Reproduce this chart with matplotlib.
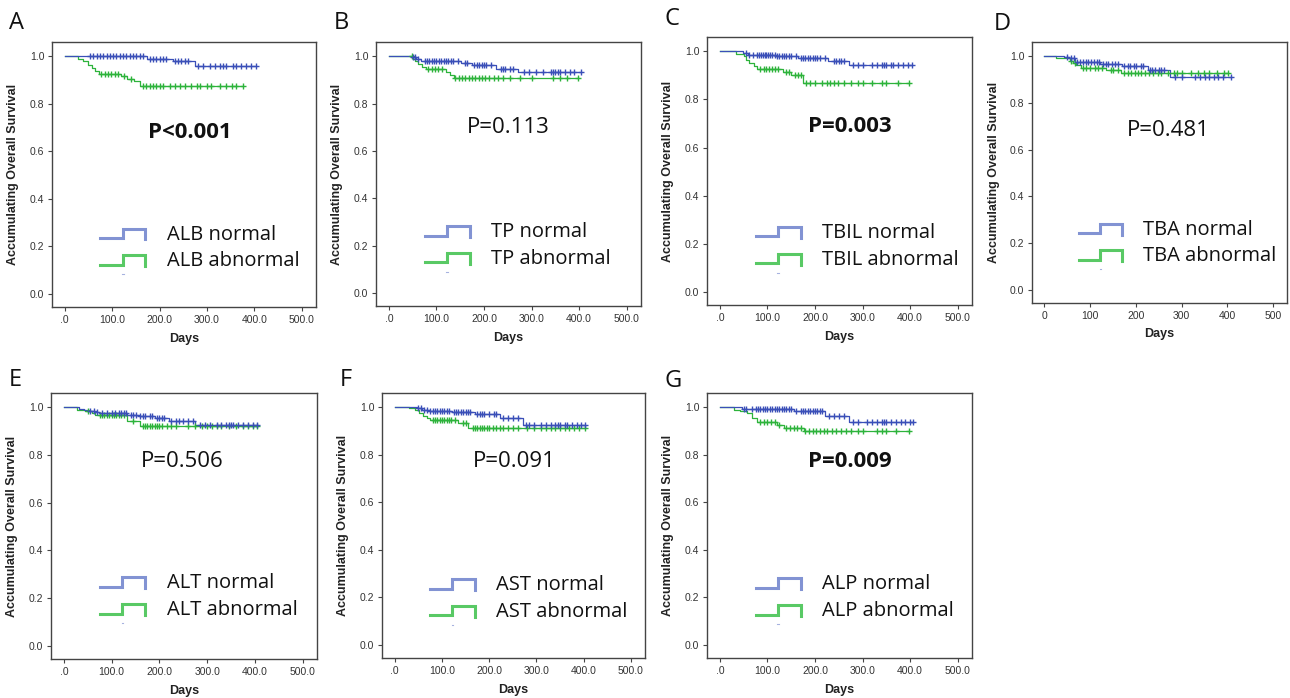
import numpy as np
import matplotlib
matplotlib.use('Agg')
import matplotlib.pyplot as plt

# Kaplan-Meier curves: drop times, level after drop, censor times
a_norm_t = [173, 228, 274]
a_norm_s = [0.99, 0.979, 0.96]
a_norm_c = [53, 60, 67, 74, 81, 88, 95, 102, 109, 116, 123, 130, 137, 144, 151, 158, 165, 179, 186,
            193, 200, 207, 214, 232, 239, 246, 253, 260, 281, 292, 306, 316, 327, 334, 341, 355, 362,
            372, 383, 393, 404]
a_abn_t = [27, 38, 49, 57, 63, 72, 119, 132, 146, 158]
a_abn_s = [0.99, 0.978, 0.965, 0.95, 0.938, 0.924, 0.915, 0.905, 0.895, 0.875]
a_abn_c = [77, 84, 91, 98, 105, 112, 125, 140, 165, 172, 179, 186, 193, 200, 207, 221, 232, 243, 253,
           267, 278, 285, 299, 309, 327, 341, 352, 362, 375]

b_norm_t = [46, 58, 68, 152, 174, 226, 272]
b_norm_s = [0.995, 0.99, 0.98, 0.972, 0.963, 0.947, 0.932]
b_norm_c = [50, 55, 62, 75, 80, 85, 90, 95, 100, 105, 110, 115, 120, 125, 130, 135, 145, 160, 165, 180,
            185, 190, 195, 200, 205, 215, 235, 240, 245, 255, 260, 285, 295, 310, 325, 340, 345, 350,
            355, 360, 370, 380, 390, 403]
b_abn_t = [50, 56, 62, 70, 78, 120, 128, 136]
b_abn_s = [0.99, 0.978, 0.965, 0.955, 0.946, 0.935, 0.92, 0.909]
b_abn_c = [48, 83, 90, 97, 104, 111, 140, 147, 154, 161, 168, 175, 182, 189, 196, 203, 210, 220, 230,
           240, 255, 275, 300, 345, 360, 375, 397]

c_norm_t = [48, 60, 118, 164, 227, 272]
c_norm_s = [0.995, 0.987, 0.979, 0.971, 0.962, 0.943]
c_norm_c = [55, 62, 70, 78, 82, 86, 90, 94, 98, 102, 106, 110, 115, 120, 125, 130, 135, 140, 145, 150,
            160, 170, 175, 180, 185, 190, 195, 200, 205, 210, 220, 240, 245, 250, 255, 260, 280, 290,
            300, 320, 330, 340, 345, 350, 360, 365, 375, 385, 395, 403]
c_abn_t = [34, 50, 56, 62, 72, 79, 133, 150, 175]
c_abn_s = [0.99, 0.98, 0.965, 0.952, 0.94, 0.928, 0.915, 0.9, 0.868]
c_abn_c = [85, 92, 98, 104, 110, 116, 122, 138, 145, 158, 165, 170, 182, 190, 200, 215, 225, 232, 240,
           248, 260, 275, 290, 300, 320, 340, 350, 375, 397]

d_norm_t = [43, 54, 68, 122, 170, 227, 274]
d_norm_s = [0.995, 0.99, 0.976, 0.968, 0.956, 0.942, 0.911]
d_norm_c = [50, 58, 65, 72, 78, 84, 90, 96, 102, 108, 114, 120, 128, 135, 140, 148, 155, 160, 175, 182,
            188, 195, 200, 210, 215, 230, 236, 242, 250, 255, 262, 285, 300, 330, 340, 350, 360, 370,
            380, 390, 407]
d_abn_t = [25, 55, 62, 70, 80, 135, 168]
d_abn_s = [0.99, 0.98, 0.97, 0.96, 0.951, 0.94, 0.926]
d_abn_c = [58, 66, 85, 92, 100, 110, 118, 125, 145, 150, 160, 175, 182, 190, 198, 205, 212, 220, 228,
           238, 248, 255, 270, 283, 290, 300, 320, 335, 348, 360, 378, 392, 402]

e_norm_t = [32, 42, 52, 63, 74, 133, 158, 190, 221, 274]
e_norm_s = [0.995, 0.99, 0.986, 0.979, 0.976, 0.969, 0.962, 0.954, 0.944, 0.927]
e_norm_c = [55, 62, 70, 80, 90, 100, 108, 115, 120, 125, 130, 140, 145, 150, 160, 165, 170, 180, 185,
            195, 200, 205, 210, 225, 235, 240, 250, 260, 270, 285, 295, 305, 320, 330, 340, 345, 350,
            355, 365, 375, 385, 395, 404]
e_abn_t = [28, 45, 58, 66, 133, 160]
e_abn_s = [0.99, 0.985, 0.975, 0.969, 0.944, 0.92]
e_abn_c = [51, 75, 80, 85, 90, 95, 100, 105, 110, 115, 120, 125, 145, 165, 170, 175, 180, 185, 190,
           195, 200, 205, 215, 225, 235, 260, 275, 290, 300, 310, 320, 330, 345, 360, 375, 385, 395, 404]

f_norm_t = [47, 58, 72, 121, 170, 223, 272]
f_norm_s = [0.995, 0.99, 0.986, 0.979, 0.973, 0.955, 0.924]
f_norm_c = [50, 55, 62, 68, 75, 80, 85, 90, 95, 100, 105, 110, 115, 125, 130, 135, 140, 145, 150, 155,
            160, 175, 180, 185, 190, 200, 210, 215, 230, 240, 250, 260, 278, 285, 295, 310, 320, 330,
            340, 345, 350, 360, 365, 375, 385, 395, 402]
f_abn_t = [30, 42, 52, 60, 68, 75, 135, 156]
f_abn_s = [0.995, 0.987, 0.976, 0.965, 0.955, 0.945, 0.934, 0.914]
f_abn_c = [80, 85, 90, 95, 100, 105, 110, 115, 120, 128, 145, 150, 165, 170, 175, 180, 185, 190, 195,
           200, 208, 215, 222, 230, 240, 250, 262, 280, 295, 310, 320, 330, 340, 350, 360, 370, 380,
           390, 402]

g_norm_t = [47, 155, 222, 271]
g_norm_s = [0.993, 0.983, 0.962, 0.938]
g_norm_c = [50, 55, 68, 75, 80, 85, 90, 95, 100, 105, 110, 115, 120, 125, 130, 135, 140, 145, 150, 160,
            170, 175, 180, 185, 190, 195, 200, 205, 210, 215, 230, 240, 250, 260, 280, 290, 310, 320,
            330, 340, 345, 350, 360, 370, 380, 390, 400, 406]
g_abn_t = [29, 43, 57, 67, 78, 120, 134, 176]
g_abn_s = [0.99, 0.983, 0.976, 0.955, 0.937, 0.927, 0.913, 0.899]
g_abn_c = [85, 92, 100, 108, 115, 125, 140, 148, 155, 162, 170, 180, 188, 195, 202, 210, 218, 225, 235,
           245, 255, 265, 275, 290, 300, 330, 340, 350, 370, 397]

letters = ['A', 'B', 'C', 'D', 'E', 'F', 'G']
markers = ['ALB', 'TP', 'TBIL', 'TBA', 'ALT', 'AST', 'ALP']
pvals = ['P<0.001', 'P=0.113', 'P=0.003', 'P=0.481', 'P=0.506', 'P=0.091', 'P=0.009']
pbold = [True, False, True, False, False, False, True]

# layout (pixels): axes box left, top, right, bottom ; letter x, y ; p text pos ; legend y
W, H = 1290, 698
boxes = [(52, 42, 316, 307), (376, 42, 641, 306), (707, 37, 972, 305), (1032, 42, 1287, 303),
         (51, 393, 317, 659), (382, 393, 645, 658), (707, 393, 972, 658)]
letter_xy = [(9, 29), (334, 29), (664, 25), (994, 30), (9, 386), (340, 386), (664, 387)]
p_xy = [(264, 0.68), (252, 0.70), (274, 0.686), (270, 0.68), (247, 0.773), (253, 0.773), (274, 0.773)]
leg_y = [0.25, 0.256, 0.245, 0.257, 0.262, 0.251, 0.255]

BLUE = '#3a4fb8'
GREEN = '#2db33b'
BLUE_L = '#6c80cc'
GREEN_L = '#3cc04a'

curves = [
    (a_norm_t, a_norm_s, a_norm_c, a_abn_t, a_abn_s, a_abn_c),
    (b_norm_t, b_norm_s, b_norm_c, b_abn_t, b_abn_s, b_abn_c),
    (c_norm_t, c_norm_s, c_norm_c, c_abn_t, c_abn_s, c_abn_c),
    (d_norm_t, d_norm_s, d_norm_c, d_abn_t, d_abn_s, d_abn_c),
    (e_norm_t, e_norm_s, e_norm_c, e_abn_t, e_abn_s, e_abn_c),
    (f_norm_t, f_norm_s, f_norm_c, f_abn_t, f_abn_s, f_abn_c),
    (g_norm_t, g_norm_s, g_norm_c, g_abn_t, g_abn_s, g_abn_c),
]


def km(ax, t, s, c, color):
    end = max(max(c), max(t))
    tt = np.array([0] + list(t) + [end])
    ss = np.array([1.0] + list(s) + [s[-1]])
    ax.step(tt, ss, where='post', color=color, lw=0.9, zorder=3)
    idx = np.searchsorted(tt[:-1], np.array(c), side='right') - 1
    ax.plot(c, ss[idx], ls='none', marker='+', ms=5, mew=1.0, color=color, zorder=4)


def legend_icon(ax, y, color):
    lo, hi = y - 0.015, y + 0.025
    ax.plot([75, 122, 122, 170, 170], [lo, lo, hi, hi, lo - 0.005], color=color, lw=2.2,
            alpha=0.85, solid_joinstyle='miter', zorder=2)


fig = plt.figure(figsize=(W / 100.0, H / 100.0), dpi=100)
fig.patch.set_facecolor('white')

for i in range(7):
    l, t, r, b = boxes[i]
    ax = fig.add_axes([l / W, 1 - b / H, (r - l) / W, (b - t) / H])
    nt, ns, nc, at, as_, ac = curves[i]
    km(ax, at, as_, ac, GREEN)
    km(ax, nt, ns, nc, BLUE)

    ax.set_xlim(-27, 530)
    ax.set_ylim(-0.055, 1.06)
    ax.set_xticks([0, 100, 200, 300, 400, 500])
    if letters[i] == 'D':
        ax.set_xticklabels(['0', '100', '200', '300', '400', '500'])
    else:
        ax.set_xticklabels(['.0', '100.0', '200.0', '300.0', '400.0', '500.0'])
    ax.set_yticks([0, 0.2, 0.4, 0.6, 0.8, 1.0])
    ax.set_yticklabels(['0.0', '0.2', '0.4', '0.6', '0.8', '1.0'])
    ax.tick_params(length=3, width=0.8, color='#444444', labelsize=7.5, labelcolor='#333333',
                   pad=2.5, labelfontfamily='Liberation Sans')
    for sp in ax.spines.values():
        sp.set_color('#444444')
        sp.set_linewidth(1.0)

    ax.set_ylabel('Accumulating Overall Survival', fontsize=9, fontweight='bold',
                  family='Liberation Sans', color='#222222')
    ax.yaxis.set_label_coords(-0.125, 0.5)
    ax.set_xlabel('Days', fontsize=9, fontweight='bold', family='Liberation Sans', color='#222222')
    ax.xaxis.set_label_coords(0.5, -0.097)

    # p value
    px, py = p_xy[i]
    ax.text(px, py, pvals[i], ha='center', va='center', fontsize=16, family='Open Sans',
            fontweight='bold' if pbold[i] else 'normal', color='#111111')

    # hand drawn legend like SPSS output
    yn = leg_y[i]
    ya = yn - 0.112
    legend_icon(ax, yn, BLUE_L)
    legend_icon(ax, ya, GREEN_L)
    ax.plot([121, 124], [ya - 0.055, ya - 0.055], color=BLUE_L, lw=0.8, alpha=0.6)
    ax.text(215, yn, markers[i] + ' normal', ha='left', va='center', fontsize=14.5,
            family='Open Sans', color='#111111')
    ax.text(215, ya, markers[i] + ' abnormal', ha='left', va='center', fontsize=14.5,
            family='Open Sans', color='#111111')

    lx, ly = letter_xy[i]
    fig.text(lx / W, 1 - ly / H, letters[i], ha='left', va='baseline', fontsize=17,
             family='Open Sans', color='#111111')

fig.savefig('out.png', dpi=100)
